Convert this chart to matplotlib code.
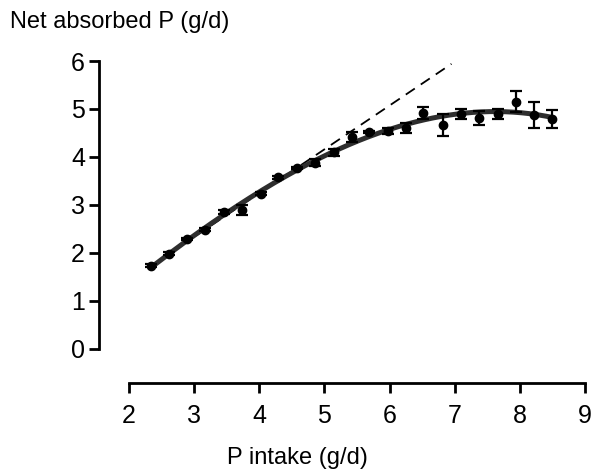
import numpy as np
import matplotlib
matplotlib.use("Agg")
import matplotlib.pyplot as plt

# valores
p_intake = [2.34, 2.62, 2.89, 3.17, 3.46, 3.74, 4.02, 4.29, 4.58, 4.86, 5.14, 5.42,
            5.69, 5.97, 6.26, 6.52, 6.82, 7.09, 7.37, 7.66, 7.94, 8.22, 8.49]
net_abs = [1.73, 1.98, 2.29, 2.48, 2.85, 2.90, 3.23, 3.58, 3.77, 3.88, 4.10, 4.42,
           4.52, 4.54, 4.60, 4.92, 4.67, 4.90, 4.81, 4.90, 5.15, 4.88, 4.79]
sem = [0.03, 0.03, 0.03, 0.03, 0.04, 0.10, 0.03, 0.03, 0.03, 0.07, 0.07, 0.10,
       0.03, 0.07, 0.10, 0.13, 0.23, 0.11, 0.15, 0.11, 0.22, 0.27, 0.18]
linear_x = [2.34, 6.95]
linear_y = [1.73, 5.94]

plt.rcParams["font.family"] = ["Liberation Sans", "DejaVu Sans"]

fig = plt.figure(figsize=(5.93, 4.70), dpi=100)
W, H = 593, 470
ax = fig.add_axes([99 / W, 1 - 383 / H, (585 - 99) / W, (383 - 61) / H])

x = np.array(p_intake)
y = np.array(net_abs)
coef = np.polyfit(x, y, 3)
xf = np.linspace(x.min(), x.max(), 200)
ax.plot(xf, np.polyval(coef, xf), color="#2e2e2e", lw=3.6, zorder=2, solid_capstyle="round")
ax.plot(linear_x, linear_y, color="black", lw=1.3, ls=(0, (6, 4)), zorder=1)
ax.errorbar(x, y, yerr=sem, fmt="o", color="black", ms=6, capsize=4, elinewidth=1.6,
            capthick=1.6, zorder=3)

ax.set_xlim(1.54, 9.0)
ax.set_ylim(-0.71, 6.0)
ax.set_xticks(range(2, 10))
ax.set_yticks(range(0, 7))
for s in ["top", "right"]:
    ax.spines[s].set_visible(False)
ax.spines["left"].set_bounds(0, 6)
ax.spines["bottom"].set_bounds(2, 9)
for s in ["left", "bottom"]:
    ax.spines[s].set_linewidth(2)
ax.tick_params(width=2, length=7, labelsize=18)
ax.tick_params(axis="x", pad=8)
ax.tick_params(axis="y", pad=3)

fig.text(10 / W, 1 - 22 / H, "Net absorbed P (g/d)", fontsize=17, va="center", ha="left")
fig.text(297 / W, 1 - 458 / H, "P intake (g/d)", fontsize=17, va="center", ha="center")

fig.savefig("out.png", dpi=100)
